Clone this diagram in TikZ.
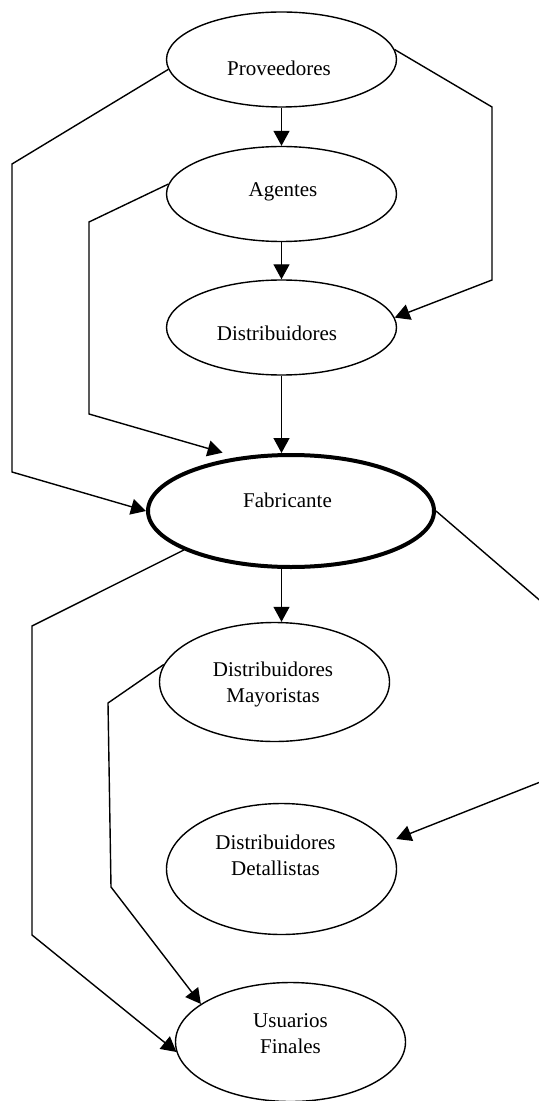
\documentclass[tikz,border=0pt]{standalone}
\usepackage{fontspec}
\setmainfont{Liberation Serif}
\usetikzlibrary{calc, positioning, arrows.meta, shapes.geometric}

\begin{document}
\begin{tikzpicture}[x=0.5pt, y=-0.5pt,
  oval/.style={draw, ellipse, line width=0.7pt, inner sep=0pt,
    minimum width=115pt, minimum height=47.5pt},
  lbl/.style={font=\fontsize{10.5}{13}\selectfont, inner sep=0pt, align=center},
  link/.style={line width=0.7pt, -{Triangle[length=7.5pt, width=8pt]}}]
  % Page frame (pixel units, y downwards)
  \useasboundingbox (0,0) rectangle (539,1101);
  \clip (0,0) rectangle (539,1101);

  % Ovals of the chain
  \node[oval] (prov) at (281.5,59.5) {};
  \node[oval] (agen) at (281.5,194) {};
  \node[oval] (dist) at (281.5,327.5) {};
  \node[oval, line width=2pt, minimum width=143pt, minimum height=56pt] (fab) at (291,511) {};
  \node[oval, minimum height=59.5pt] (may) at (274.5,682) {};
  \node[oval, minimum height=65.5pt] (det) at (281.5,869) {};
  \node[oval, minimum height=59.5pt] (usu) at (290.5,1042) {};

  % Texts
  \node[lbl, anchor=base] (provtxt) at (279,76) {Proveedores};
  \node[lbl, anchor=base] (agentxt) at (283,197) {Agentes};
  \node[lbl, anchor=base] (disttxt) at (277,340) {Distribuidores};
  \node[lbl, anchor=base] (fabtxt) at (287.5,507) {Fabricante};
  \node[lbl] (maytxt) at (273,684) {Distribuidores\\Mayoristas};
  \node[lbl] (dettxt) at (275.5,855.5) {Distribuidores\\Detallistas};
  \node[lbl] (usutxt) at (290.5,1034) {Usuarios\\Finales};

  % Corners of the bent links
  \coordinate (l1) at (12,164);
  \coordinate (l2) at (12,472);
  \coordinate (l3) at (89,222);
  \coordinate (l4) at (89,414);
  \coordinate (r1) at (492,107);
  \coordinate (r2) at (492,280);
  \coordinate (r3) at (558,616);
  \coordinate (r4) at (558,775);
  \coordinate (l5) at (32,626);
  \coordinate (l6) at (32,935);
  \coordinate (l7) at (108,703);
  \coordinate (l8) at (111,887);

  % Straight links
  \draw[link] (prov) -- (agen);
  \draw[link] (agen) -- (dist);
  \draw[link] (dist) -- (dist |- fab.north);
  \draw[link] (fab.south -| dist) -- (dist |- may.north);

  % Bent links
  \draw[link] (prov.185) -- (l1) -- (l2) -- (fab.west);
  \draw[link] (agen.175) -- (l3) -- (l4) -- ([shift={(-6,-6)}]fab.140);
  \draw[link] (prov.5) -- (r1) -- (r2) -- (dist.5);
  \draw[link] (fab.east) -- (r3) -- (r4) -- ([shift={(10,-2)}]det.15);
  \draw[link] (fab.200) -- (l5) -- (l6) -- (usu.185);
  \draw[link] (may.171) -- (l7) -- (l8) -- (usu.157);
\end{tikzpicture}
\end{document}
